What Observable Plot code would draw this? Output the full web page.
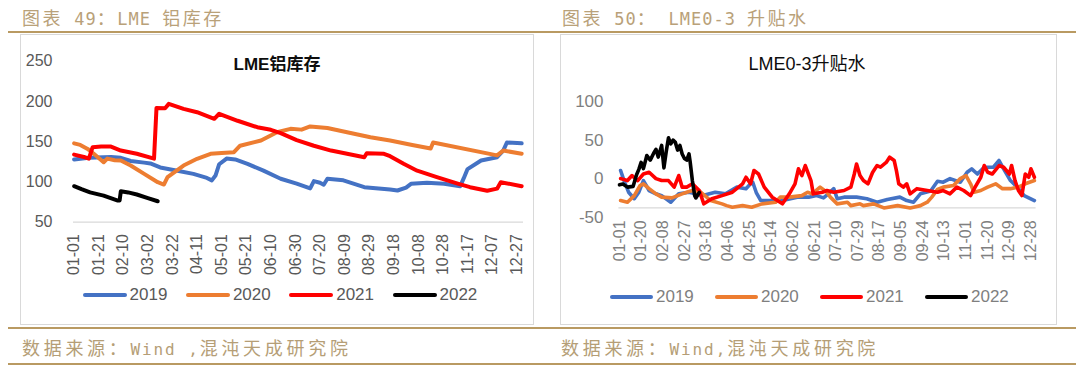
<!DOCTYPE html>
<html><head><meta charset="utf-8">
<script src="https://cdn.jsdelivr.net/npm/d3@7"></script>
<script src="https://cdn.jsdelivr.net/npm/@observablehq/plot@0.6"></script>
<style>
html,body{margin:0;padding:0;background:#fff}
body{width:1080px;height:366px;overflow:hidden;position:relative;font-family:"Liberation Sans",Arial,"Noto Sans CJK SC",sans-serif}
.hdr,.ftr{position:absolute;white-space:nowrap;line-height:18px}
.hdr{color:#b9a179}
.ftr{color:#b59e76}
.hdr .c{font-family:"Noto Sans CJK SC",sans-serif;font-size:18px;letter-spacing:2.5px}
.hdr .l{font-family:"DejaVu Sans Mono",monospace;font-size:17px;letter-spacing:1px}
.ftr .c{font-family:"Noto Sans CJK SC",sans-serif;font-size:18px;letter-spacing:3.7px}
.ftr .l{font-family:"DejaVu Sans Mono",monospace;font-size:16px;letter-spacing:1.9px}
.rule{position:absolute;background:#b99a62;height:2px}
.box{position:absolute;border:1px solid #d9d9d9;box-sizing:border-box}
.title{position:absolute;transform:translate(-50%,-50%);white-space:nowrap;color:#0d0d0d;font-family:"Liberation Sans","Noto Sans CJK SC",sans-serif}
.plot{position:absolute}
.lg{position:absolute;display:flex;align-items:center;white-space:nowrap;transform:translateY(-50%)}
.lg .sw{display:inline-block;height:4px;border-radius:2px}
.lg .tx{margin-left:3px}
</style>
</head><body>
<div class="hdr" style="left:22px;top:8px"><span class="c">图表</span><span class="l"> 49</span><span class="c">：</span><span class="l">LME </span><span class="c">铝库存</span></div>
<div class="hdr" style="left:562px;top:8px"><span class="c">图表</span><span class="l"> 50</span><span class="c">：</span><span class="l"> LME0-3 </span><span class="c">升贴水</span></div>
<div class="rule" style="left:8px;top:31px;width:1068px"></div>
<div class="box" style="left:20px;top:34px;width:514px;height:291px"></div>
<div class="box" style="left:560px;top:34px;width:497px;height:291px"></div>
<div class="rule" style="left:8px;top:327px;width:1068px"></div>
<div class="ftr" style="left:22px;top:338px"><span class="c">数据来源：</span><span class="l">Wind ,</span><span class="c">混沌天成研究院</span></div>
<div class="ftr" style="left:561px;top:338px"><span class="c">数据来源：</span><span class="l">Wind,</span><span class="c">混沌天成研究院</span></div>
<div class="rule" style="left:8px;top:363px;width:1068px"></div>
<div class="title" style="left:277px;top:62px;font-size:17px;font-weight:bold">LME铝库存</div>
<div class="title" style="left:807px;top:62px;font-size:18px">LME0-3升贴水</div>
<div id="left" class="plot" style="left:20px;top:34px"></div>
<div id="right" class="plot" style="left:560px;top:34px"></div>
<div id="legL"></div>
<div id="legR"></div>
<script>
// ---- shared ----
const years = ["2019", "2020", "2021", "2022"];
const colors = ["#4472C4", "#ED7D31", "#FF0000", "#000000"];

// ---- LME 铝库存 (day of year, value) ----
const stockTickLabels = ["01-01","01-21","02-10","03-02","03-22","04-11","05-01","05-21","06-10","06-30","07-20","08-09","08-29","09-18","10-08","10-28","11-17","12-07","12-27"];
const stockYTicks = [50, 100, 150, 200, 250];
const stock2019 = [[0,128],[12,130],[30,131],[38,130],[46,126],[57,124],[62,123],[70,118],[84,114],[97,110],[108,105],[112,102],[115,108],[118,122],[124,129],[131,128],[141,122.5],[154,114],[168,104],[181,98],[192,92],[195,101],[200,99],[203,96.5],[206,104],[219,102],[236,93.5],[257,90.6],[263,89.4],[270,93],[274,97.7],[287,99],[301,97.7],[314,94.7],[317,105],[320,116],[331,126.6],[344,130.7],[349,139],[352,149],[364,148]];
const stock2020 = [[0,148],[5,146],[11,141],[16,135],[24,124.5],[27,129],[33,127],[38,126.6],[46,120.4],[57,110],[68,99.7],[73,96.8],[76,106],[89,120.4],[100,128.8],[111,135],[120,136],[130,137],[135,145],[152,151.5],[165,161.8],[176,166],[185,165],[192,169],[206,167],[222,161.8],[241,155.6],[257,151.5],[275,146],[290,141.5],[292,149],[344,133],[349,139],[364,135]];
const stock2021 = [[0,134],[8,131],[12,129],[15,143],[22,144],[30,144],[38,139],[51,135],[65,129],[67,192],[74,191.6],[77,197],[89,190.8],[100,186.6],[114,178.4],[118,184.7],[133,176],[149,168],[160,164.8],[168,160.6],[181,152],[195,145],[209,139],[222,135],[236,130.7],[238,135.7],[252,135],[257,132],[268,122.5],[279,114],[295,106],[312,98],[322,93.5],[336,89],[344,91.7],[347,99.7],[364,94.7]];
const stock2022 = [[0,94.7],[6,91],[13,87],[24,83],[35,77],[37,77],[38,88.5],[44,87],[51,84.4],[60,80],[68,76]];

// ---- LME0-3 升贴水 ----
const spreadTickLabels = ["01-01","01-20","02-08","02-27","03-18","04-06","04-25","05-14","06-02","06-21","07-10","07-29","08-17","09-05","09-24","10-13","11-01","11-20","12-09","12-28"];
const spreadYTicks = [-50, 0, 50, 100];
const spreadAxisCross = -38;
const spread2019 = [[1,10.5],[4,-2.5],[8,-17.6],[13,-26],[17,-17.6],[21,-2.5],[26,-15.4],[32,-19.7],[37,-22],[45,-30.6],[52,-19.7],[61,-17.6],[67,-19.7],[73,-22],[84,-17.6],[93,-19.7],[103,-11],[111,-13],[115,-6.7],[117,-5],[120,-18],[124,-28.4],[131,-28.4],[143,-28.4],[156,-24],[166,-24],[173,-22],[179,-25],[183,-20],[188,-13],[191,-26],[197,-24],[208,-24],[217,-26],[226,-30.6],[235,-27],[246,-24],[252,-28.4],[258,-30.6],[264,-19.7],[273,-16],[279,-3.5],[284,-4.6],[290,0],[299,-4.6],[305,8.3],[309,12.7],[314,6],[320,14.8],[328,14.8],[333,23.5],[337,12.7],[343,-2.5],[349,-11],[355,-22],[364,-28.4]];
const spread2020 = [[1,-28.4],[7,-30.6],[13,-22],[18,-9],[21,-6.7],[26,-13],[32,-19.7],[37,-24],[46,-25],[55,-19.7],[59,-17.6],[64,-15.4],[71,-17],[80,-28.4],[90,-32.7],[94,-35],[99,-37],[108,-35],[116,-37],[125,-32.7],[137,-30.6],[141,-24],[149,-24],[160,-22],[165,-17.6],[169,-19.7],[176,-11],[182,-17.6],[185,-24],[191,-32.7],[200,-30.6],[203,-35],[211,-32.7],[214,-35],[223,-32.7],[232,-38],[244,-35],[255,-38],[258,-37],[264,-35],[270,-30.6],[274,-24],[279,-14],[284,-11],[293,-9],[299,0],[304,4],[308,-6.7],[311,-17.6],[317,-15.4],[323,-11],[330,-6.7],[336,-13],[343,-13],[350,-11],[356,-6.7],[364,-2.5]];
const spread2021 = [[1,0],[7,-2.5],[11,4],[16,-2.5],[21,6],[26,8.3],[32,0],[37,-2.5],[43,-2.5],[48,-11],[52,4],[55,-11],[59,-11],[64,-6.7],[70,-15.4],[74,-32.7],[81,-26],[90,-22],[99,-17.6],[108,-6.7],[111,1.8],[115,-6.7],[118,10.5],[122,6],[127,-11],[134,-24],[143,-32.7],[149,-19.7],[154,-6.7],[157,12.7],[160,4],[163,17],[168,-2.5],[170,-19.7],[178,-17.6],[182,-15.4],[188,-17.6],[197,-15.4],[203,-11],[206,6],[208,19],[211,4],[214,-2.5],[218,-6.7],[222,8],[226,17],[229,15],[234,21],[237,27.7],[241,23.5],[243,10],[245,-6.7],[249,-11],[252,-6.7],[255,-19.7],[261,-13],[270,-15.4],[279,-17.6],[284,-15.4],[290,-19.7],[296,-11],[302,-15.4],[308,-22],[312,-11],[317,1.8],[320,17],[323,8.3],[327,6],[333,17],[337,14.8],[342,6],[344,17],[347,-2.5],[350,-15.4],[353,-22],[356,6],[359,1.8],[361,12.7],[364,1.8]];
const spread2022 = [[0,-8],[3,-7],[7,-11],[12,-10],[15,5],[17,12],[19,21],[21,13],[24,30],[27,24],[30,33],[32,38],[34,28],[37,43],[39,14],[41,35],[43,53],[45,45],[47,50],[49,47],[51,37],[53,43],[55,32],[57,26],[59,24],[61,32],[62,22],[64,-3],[66,-22],[67,-25],[70,-18]];

// ---- helpers ----
const jan1 = new Date(2019, 0, 1);
const dayOfYear = s => { const [m, d] = s.split("-").map(Number); return d3.timeDay.count(jan1, new Date(2019, m - 1, d)); };
const FONT = '"Liberation Sans", Arial, sans-serif';

function linesFor(seriesList, sw) {
  return seriesList.map((s, i) => Plot.line(s, {x: d => d[0], y: d => d[1], stroke: colors[i], strokeWidth: sw, strokeLinejoin: "round", strokeLinecap: "round"}));
}

// ---- left chart ----
const leftTicks = stockTickLabels.map(l => ({label: l, day: dayOfYear(l)}));
const leftPlot = Plot.plot({
  width: 513, height: 290,
  marginLeft: 53, marginRight: 10, marginTop: 26.7, marginBottom: 102.3,
  x: {domain: [-0.5, 365.5], axis: null},
  y: {domain: [50, 250], axis: null},
  style: {fontFamily: FONT, fontSize: "16px", color: "#595959", background: "transparent", overflow: "visible"},
  marks: [
    Plot.ruleY([50], {stroke: "#d9d9d9", strokeWidth: 1.2}),
    Plot.text(stockYTicks, {y: d => d, text: d => String(d), frameAnchor: "left", textAnchor: "end", dx: -21, fontSize: 16, fill: "#595959"}),
    Plot.text(leftTicks, {x: "day", text: "label", frameAnchor: "bottom", rotate: -90, textAnchor: "end", lineAnchor: "middle", dy: 12, fontSize: 16, fill: "#595959"}),
    ...linesFor([stock2019, stock2020, stock2021, stock2022], 4)
  ]
});
document.getElementById("left").appendChild(leftPlot);

// ---- right chart ----
const rightTicks = spreadTickLabels.map(l => ({label: l, day: dayOfYear(l)}));
const rightPlot = Plot.plot({
  width: 497, height: 290,
  marginLeft: 58.4, marginRight: 21.4, marginTop: 67, marginBottom: 107.3,
  x: {domain: [-0.5, 365.5], axis: null},
  y: {domain: [-50, 100], axis: null},
  style: {fontFamily: FONT, fontSize: "16px", color: "#7f7f7f", background: "transparent", overflow: "visible"},
  marks: [
    Plot.ruleY([spreadAxisCross], {stroke: "#d9d9d9", strokeWidth: 1.2}),
    Plot.text(spreadYTicks, {y: d => d, text: d => String(d), frameAnchor: "left", textAnchor: "end", dx: -15.4, fontSize: 17, fill: "#7f7f7f"}),
    Plot.text(rightTicks, {x: "day", y: () => spreadAxisCross, text: "label", rotate: -90, textAnchor: "end", lineAnchor: "middle", dy: 12.5, fontSize: 16, fill: "#7f7f7f", style: "letter-spacing:1.2px"}),
    ...linesFor([spread2019, spread2020, spread2021, spread2022], 3.6)
  ]
});
document.getElementById("right").appendChild(rightPlot);

// ---- legends (HTML) ----
function legend(id, x0, step, y, swW, color, fs) {
  const host = document.getElementById(id);
  years.forEach((yr, i) => {
    const item = document.createElement("div");
    item.className = "lg";
    item.style.left = (x0 + i * step) + "px";
    item.style.top = y + "px";
    item.style.fontSize = fs + "px";
    item.style.color = color;
    item.innerHTML = `<span class="sw" style="width:${swW}px;background:${colors[i]}"></span><span class="tx">${yr}</span>`;
    host.appendChild(item);
  });
}
legend("legL", 82.6, 103.3, 294.6, 44, "#595959", 17);
legend("legR", 610, 105, 296.7, 43, "#7f7f7f", 17);
</script>
</body></html>
